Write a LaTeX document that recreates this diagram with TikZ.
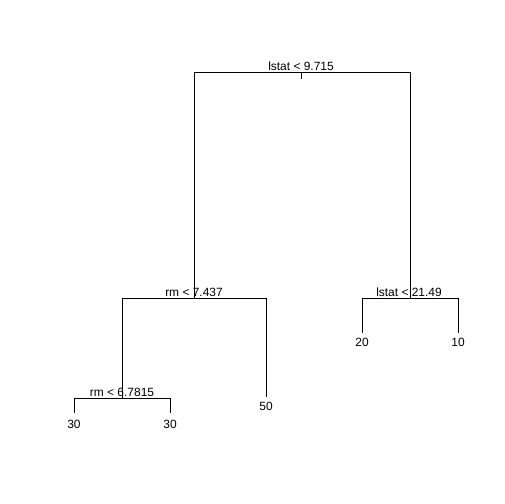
\documentclass[tikz,border=0pt]{standalone}
\usepackage{fontspec}
\setmainfont{Liberation Sans}
\begin{document}
\begin{tikzpicture}[x=1bp,y=-1bp,
  lbl/.style={inner sep=0pt,anchor=base,font=\fontsize{12}{14}\selectfont},
  edge/.style={line width=0.75bp,line cap=butt}]
\useasboundingbox (0,0) rectangle (504,504);
% split points
\coordinate (root) at (301,72);
\coordinate (rootL) at (194,72);
\coordinate (rootR) at (410,72);
\coordinate (rootT) at (301,79);
\coordinate (n2) at (194,298);
\coordinate (n2L) at (122,298);
\coordinate (n2R) at (266,298);
\coordinate (n3) at (410,298);
\coordinate (n3L) at (362,298);
\coordinate (n3R) at (458,298);
\coordinate (n4) at (122,398);
\coordinate (n4L) at (74,398);
\coordinate (n4R) at (170,398);
\coordinate (l50) at (266,397);
\coordinate (l20) at (362,333);
\coordinate (l10) at (458,333);
\coordinate (l30a) at (74,413);
\coordinate (l30b) at (170,413);
% labels
\node[lbl] (t1) at (301,71) {lstat < 9.715};
\node[lbl] (t2) at (194,296) {rm < 7.437};
\node[lbl] (t3) at (409,296) {lstat < 21.49};
\node[lbl] (t4) at (122,396) {rm < 6.7815};
\node[lbl] (v50) at (266,410.5) {50};
\node[lbl] (v20) at (362,346.5) {20};
\node[lbl] (v10) at (458,346.5) {10};
\node[lbl] (v30a) at (74,428.5) {30};
\node[lbl] (v30b) at (170,428.5) {30};
% edges
\draw[edge] (root) -- (rootT);
\draw[edge] (n2) -- (rootL) -- (rootR) -- (n3);
\draw[edge] (n4) -- (n2L) -- (n2R) -- (l50);
\draw[edge] (l20) -- (n3L) -- (n3R) -- (l10);
\draw[edge] (l30a) -- (n4L) -- (n4R) -- (l30b);
\end{tikzpicture}
\end{document}
